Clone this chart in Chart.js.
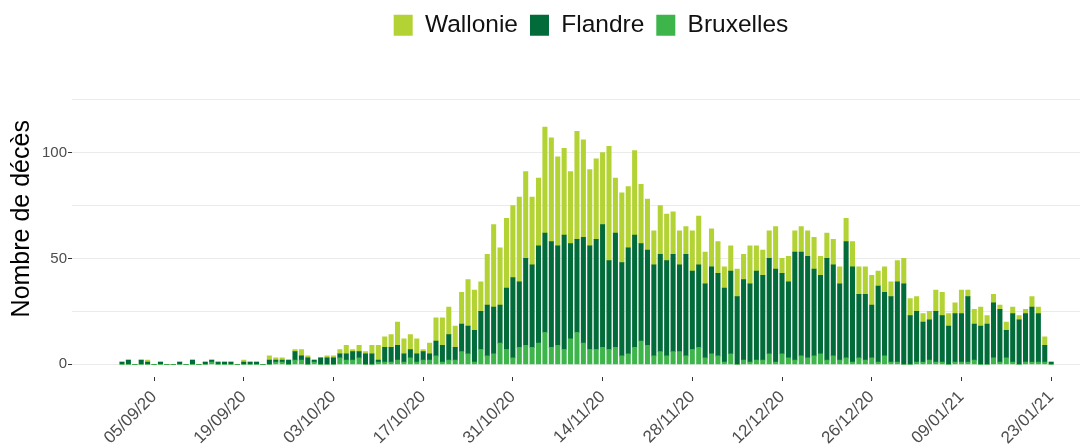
<!DOCTYPE html>
<html>
<head>
<meta charset="utf-8">
<script src="https://cdn.jsdelivr.net/npm/chart.js@4.4.1/dist/chart.umd.min.js"></script>
<style>
  html, body { margin: 0; padding: 0; background: #fff; }
  #wrap { width: 1089px; height: 448px; }
</style>
</head>
<body>
<div id="wrap"><canvas id="decesChart" width="1089" height="448"></canvas></div>
<script>
// jour 0 = 31/08/20, un point par jour jusqu'au 23/01/21
const wallonie = [
  0,0,0,0,1,0,0,0,0,0, 0,0,0,0,0,0,0,0,0,1,
  0,0,0,2,1,1,0,1,3,1, 0,0,1,1,2,4,1,3,1,4,
  7,5,6,11,7,7,7,1,5,11, 13,13,10,15,22,19,14,24,39,27,
  33,34,40,41,32,32,50,49,42,41, 34,51,46,36,38,34,54,26,33,29,
  40,28,24,16,23,22,20,16,13,19, 23,15,18,15,10,12,13,12,18,12,
  12,13,20,7,12,10,12,12,15,9, 12,12,8,11,12,13,13,14,7,12,
  7,10,12,8,7,4,4,10,11,6, 5,11,3,7,9,4,4,2,4,3,
  2,2,5,3,4,0
];
const flandre = [
  1,2,0,2,1,0,1,0,0,1, 0,2,0,1,1,1,1,1,0,1,
  1,1,0,2,1,1,2,4,2,3, 1,3,3,3,2,3,4,3,5,5,
  1,7,7,7,4,4,4,4,3,7, 8,12,6,13,13,15,18,24,22,18,
  29,38,31,41,39,46,47,50,47,54, 45,44,50,49,52,58,42,54,44,50,
  53,46,45,43,46,45,46,41,48,37, 39,35,41,39,35,39,32,38,37,42,
  40,45,44,38,36,51,49,48,41,37, 48,43,36,55,45,30,31,25,36,30,
  31,38,38,23,24,19,19,24,22,18, 23,23,31,17,18,19,26,25,13,23,
  21,23,26,23,8,1
];
const bruxelles = [
  0,0,0,0,0,0,0,0,0,0, 0,0,0,0,1,0,0,0,0,0,
  0,0,0,0,1,1,0,2,2,0, 1,0,0,0,3,2,2,3,0,0,
  1,1,1,2,1,3,1,2,2,4, 1,2,2,6,5,1,7,4,5,10,
  7,3,8,9,8,10,15,8,9,7, 12,15,10,7,7,8,7,8,4,5,
  8,11,9,4,6,4,6,6,4,7, 8,3,5,4,1,5,0,2,1,2,
  2,5,1,5,3,2,4,3,4,5, 2,4,2,3,1,3,2,3,1,4,
  1,1,0,0,1,1,2,1,1,0, 1,1,1,2,0,0,3,1,3,1,
  0,1,1,1,1,0
];
const tickDays = [5, 19, 33, 47, 61, 75, 89, 103, 117, 131, 145];
const tickLabels = ['05/09/20', '19/09/20', '03/10/20', '17/10/20', '31/10/20', '14/11/20',
  '28/11/20', '12/12/20', '26/12/20', '09/01/21', '23/01/21'];
const yTicks = [0, 25, 50, 75, 100, 125];

const police = '"Liberation Sans", Arial, sans-serif';
const asPoints = vals => vals.map((v, i) => ({ x: i, y: v }));

// la légende ggplot est un peu à droite et plus haut
const decaleLegende = {
    id: 'decaleLegende',
    afterUpdate(chart) {
        const lg = chart.legend;
        lg.left += 51; lg.right += 51;
        lg.top -= 13; lg.bottom -= 13;
    }
};

const ctx = document.getElementById('decesChart');
new Chart(ctx, {
    type: 'bar',
    data: {
        datasets: [
            { label: 'Bruxelles', data: asPoints(bruxelles), backgroundColor: '#3db54a' },
            { label: 'Flandre', data: asPoints(flandre), backgroundColor: '#016b3a' },
            { label: 'Wallonie', data: asPoints(wallonie), backgroundColor: '#b3d334' }
        ]
    },
    options: {
        responsive: false,
        animation: false,
        layout: { padding: { top: 14, right: 9, left: 0, bottom: 0 } },
        datasets: { bar: { barThickness: 4.4, borderWidth: 0 } },
        plugins: {
            legend: {
                position: 'top',
                reverse: true,
                labels: {
                    boxWidth: 19, boxHeight: 21, padding: 12,
                    color: '#111', font: { family: police, size: 24.5 }
                }
            },
            tooltip: { enabled: false }
        },
        scales: {
            x: {
                type: 'linear',
                stacked: true,
                offset: false,
                min: -7.8, max: 149.5,
                afterBuildTicks: s => { s.ticks = tickDays.map(v => ({ value: v })); },
                afterFit: s => { s.height = 71; },
                border: { display: false },
                grid: { offset: false, drawOnChartArea: false, drawTicks: true, tickLength: 4, tickColor: '#333' },
                ticks: {
                    minRotation: 45, maxRotation: 45, padding: 6,
                    color: '#4d4d4d', font: { family: police, size: 17 },
                    callback: (v, i) => tickLabels[i]
                }
            },
            y: {
                stacked: true,
                min: -6, max: 143.5,
                afterBuildTicks: s => { s.ticks = yTicks.map(v => ({ value: v })); },
                afterFit: s => { s.width = 72; },
                border: { display: false },
                grid: {
                    color: '#ebebeb',
                    tickLength: 4,
                    tickColor: c => (c.tick && c.tick.value % 50 === 0) ? '#333' : 'rgba(0,0,0,0)'
                },
                ticks: {
                    padding: 1,
                    color: '#4d4d4d', font: { family: police, size: 15 },
                    callback: v => (v % 50 === 0 ? v : '')
                },
                title: {
                    display: true, text: 'Nombre de décès',
                    color: '#000', font: { family: police, size: 25 },
                    padding: { top: 7, bottom: 0 }
                }
            }
        }
    },
    plugins: [decaleLegende]
});
</script>
</body>
</html>
